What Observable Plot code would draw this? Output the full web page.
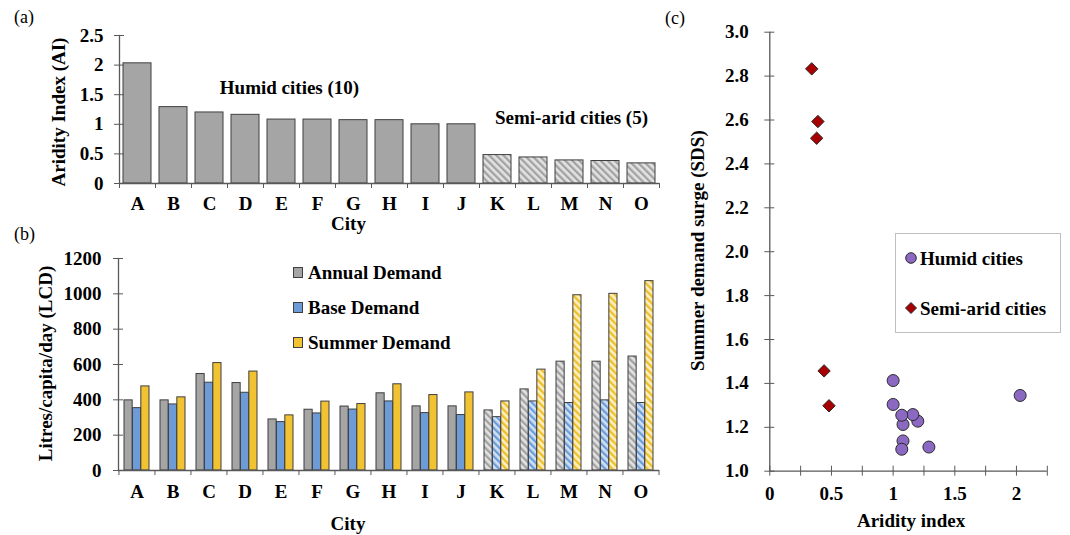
<!DOCTYPE html>
<html>
<head>
<meta charset="utf-8">
<script src="https://cdn.jsdelivr.net/npm/d3@7"></script>
<script src="https://cdn.jsdelivr.net/npm/@observablehq/plot@0.6"></script>
<style>
  body { margin: 0; background: #fff; }
  #fig { position: relative; width: 1070px; height: 535px; background: #fff;
         font-family: "Liberation Serif", "Times New Roman", serif; color: #000; }
  #fig .panel { position: absolute; }
  .tag { position: absolute; font-size: 18px; font-weight: normal; line-height: 1; }
  .key { position: absolute; display: flex; align-items: center; gap: 5px;
         font-size: 19px; font-weight: bold; white-space: nowrap; line-height: 1; }
  .swatch { display: inline-block; width: 8px; height: 9px; border: 1px solid #3f3f3f; }
  .keybox { position: absolute; border: 1px solid #bfbfbf; background: #fff; box-sizing: border-box; }
</style>
</head>
<body>
<!-- hatch fills used for the semi-arid cities -->
<svg width="0" height="0" style="position:absolute">
  <defs>
    <pattern id="hatchGray" patternUnits="userSpaceOnUse" width="5" height="5" patternTransform="rotate(-45)">
      <rect width="5" height="5" fill="#e2e2e2"/><rect width="2.3" height="5" fill="#a2a2a2"/>
    </pattern>
    <pattern id="hatchBlue" patternUnits="userSpaceOnUse" width="5" height="5" patternTransform="rotate(-45)">
      <rect width="5" height="5" fill="#cfe0f5"/><rect width="2.3" height="5" fill="#6c9bd7"/>
    </pattern>
    <pattern id="hatchGold" patternUnits="userSpaceOnUse" width="5" height="5" patternTransform="rotate(-45)">
      <rect width="5" height="5" fill="#fdf0c0"/><rect width="2.3" height="5" fill="#efbe2c"/>
    </pattern>
  </defs>
</svg>

<div id="fig"></div>

<script>
// ---- data ----
const cities = ["A","B","C","D","E","F","G","H","I","J","K","L","M","N","O"];
const climate = ["Humid","Humid","Humid","Humid","Humid","Humid","Humid","Humid","Humid","Humid",
                 "Semi-arid","Semi-arid","Semi-arid","Semi-arid","Semi-arid"];
const aridityIndex = [2.03, 1.29, 1.20, 1.16, 1.08, 1.08, 1.07, 1.07, 1.00, 1.00, 0.48, 0.44, 0.39, 0.38, 0.34];
const annualDemand = [397, 397, 546, 495, 289, 344, 362, 437, 363, 363, 340, 459, 616, 616, 645];
const baseDemand   = [353, 374, 497, 440, 274, 323, 345, 391, 325, 314, 302, 391, 382, 397, 382];
const summerDemand = [476, 414, 608, 560, 312, 390, 376, 488, 427, 442, 391, 571, 992, 1000, 1072];
const demandSurge  = [1.345, 1.11, 1.228, 1.258, 1.138, 1.213, 1.10, 1.255, 1.304, 1.413, 1.298, 1.457, 2.593, 2.517, 2.833];

const aiTicks = [0, 0.5, 1, 1.5, 2, 2.5];
const lcdTicks = [0, 200, 400, 600, 800, 1000, 1200];
const sdsTicks = [1.0, 1.2, 1.4, 1.6, 1.8, 2.0, 2.2, 2.4, 2.6, 2.8, 3.0];
const scatterMinorTicks = [0, 0.25, 0.5, 0.75, 1, 1.25, 1.5, 1.75, 2, 2.25];
const scatterLabelTicks = [0, 0.5, 1, 1.5, 2];

const seriesNames = ["Annual Demand", "Base Demand", "Summer Demand"];
const seriesValues = [annualDemand, baseDemand, summerDemand];
const seriesFill = ["#a5a5a5", "#6c9bd7", "#f1c232"];
const seriesHatch = ["url(#hatchGray)", "url(#hatchBlue)", "url(#hatchGold)"];

// ---- tables built from the arrays ----
const cityRows = cities.map((c, i) => ({city: c, climate: climate[i], ai: aridityIndex[i], sds: demandSurge[i]}));
const demandRows = seriesNames.flatMap((s, k) =>
  cities.map((c, i) => ({city: c, climate: climate[i], series: s, k, value: seriesValues[k][i]})));

const humid = d => d.climate === "Humid";
const semiArid = d => d.climate === "Semi-arid";

const axisColor = "#595959";
const barStroke = "#3f3f3f";
const baseStyle = {fontFamily: "'Liberation Serif', 'Times New Roman', serif", fontSize: "19px",
                   fontWeight: "bold", color: "#000", background: "transparent", overflow: "visible"};
const vTitle = {frameAnchor: "left", rotate: -90, textAnchor: "middle", lineAnchor: "middle"};

const fig = document.getElementById("fig");
function place(node, left, top) {
  node.classList.add("panel");
  node.style.left = left + "px";
  node.style.top = top + "px";
  fig.appendChild(node);
}

// ---- (a) aridity index by city ----
{
  const W = 680, H = 240;
  const m = {top: 35, right: 21, bottom: 57, left: 119};
  const step = (W - m.left - m.right) / cities.length;
  const chart = Plot.plot({
    width: W, height: H,
    marginTop: m.top, marginRight: m.right, marginBottom: m.bottom, marginLeft: m.left,
    style: baseStyle,
    x: {domain: cities, paddingInner: 0.21, paddingOuter: 0.105},
    y: {domain: [0, 2.5]},
    marks: [
      Plot.barY(cityRows.filter(humid), {x: "city", y: "ai", fill: "#a5a5a5", stroke: barStroke, strokeWidth: 1}),
      Plot.barY(cityRows.filter(semiArid), {x: "city", y: "ai", fill: "url(#hatchGray)", stroke: barStroke, strokeWidth: 1}),
      Plot.ruleY([0], {stroke: axisColor, strokeWidth: 1.3}),
      Plot.frame({anchor: "left", stroke: axisColor, strokeWidth: 1.3}),
      Plot.axisY({ticks: aiTicks, tickSize: 10, dx: 5, tickPadding: 11, tickFormat: d => String(d), stroke: axisColor, label: null}),
      Plot.axisX({tickSize: 0, tickPadding: 13, label: null}),
      Plot.axisX({ticks: cities, tickSize: 5, dx: -step / 2, tickFormat: () => "", stroke: axisColor, label: null}),
      Plot.axisX({ticks: cities.slice(-1), tickSize: 5, dx: step / 2, tickFormat: () => "", stroke: axisColor, label: null}),
      Plot.text(["Aridity Index (AI)"], {...vTitle, dx: -61, dy: 2.5}),
      Plot.text(["City"], {frameAnchor: "bottom", dx: -41, dy: 40, lineAnchor: "middle"}),
      Plot.text(["Humid cities (10)"], {frameAnchor: "top-left", dx: 170, dy: 52, textAnchor: "middle", lineAnchor: "middle"}),
      Plot.text(["Semi-arid cities (5)"], {frameAnchor: "top-left", dx: 452, dy: 82, textAnchor: "middle", lineAnchor: "middle"})
    ]
  });
  place(chart, 0, 0);
}

// ---- (b) demand by city ----
{
  const W = 680, H = 295;
  const m = {top: 18, right: 21, bottom: 65, left: 118};
  const step = (W - m.left - m.right) / cities.length;
  const pad = 0.3;
  const w = step * (1 - pad) / seriesNames.length;
  const bars = seriesNames.flatMap((s, k) => {
    const opts = {x: "city", y: "value", stroke: barStroke, strokeWidth: 1,
                  insetLeft: k * w, insetRight: (seriesNames.length - 1 - k) * w};
    return [
      Plot.barY(demandRows.filter(d => d.k === k && humid(d)), {...opts, fill: seriesFill[k]}),
      Plot.barY(demandRows.filter(d => d.k === k && semiArid(d)), {...opts, fill: seriesHatch[k]})
    ];
  });
  const chart = Plot.plot({
    width: W, height: H,
    marginTop: m.top, marginRight: m.right, marginBottom: m.bottom, marginLeft: m.left,
    style: baseStyle,
    x: {domain: cities, paddingInner: pad, paddingOuter: pad / 2},
    y: {domain: [0, 1200]},
    marks: [
      ...bars,
      Plot.ruleY([0], {stroke: axisColor, strokeWidth: 1.3}),
      Plot.frame({anchor: "left", stroke: axisColor, strokeWidth: 1.3}),
      Plot.axisY({ticks: lcdTicks, tickSize: 10, dx: 5, tickPadding: 12, tickFormat: d => String(d), stroke: axisColor, label: null}),
      Plot.axisX({tickSize: 0, tickPadding: 14, label: null}),
      Plot.axisX({ticks: cities, tickSize: 5, dx: -step / 2, tickFormat: () => "", stroke: axisColor, label: null}),
      Plot.axisX({ticks: cities.slice(-1), tickSize: 5, dx: step / 2, tickFormat: () => "", stroke: axisColor, label: null}),
      Plot.text(["Litres/capita/day (LCD)"], {...vTitle, dx: -73, dy: -1}),
      Plot.text(["City"], {frameAnchor: "bottom", dx: -41, dy: 53, lineAnchor: "middle"})
    ]
  });
  place(chart, 0, 240);

  // series key
  const keyTops = [272, 307, 342];
  seriesNames.forEach((s, k) => {
    const row = document.createElement("div");
    row.className = "key";
    row.style.left = "293px";
    row.style.top = (keyTops[k] - 10) + "px";
    row.style.height = "20px";
    const sw = document.createElement("span");
    sw.className = "swatch";
    sw.style.background = seriesFill[k];
    const label = document.createElement("span");
    label.textContent = s;
    row.append(sw, label);
    fig.appendChild(row);
  });
}

// ---- (c) summer demand surge vs aridity index ----
const humidColor = "#8b69c3", semiColor = "#a80000", dotStroke = "#2b2b2b";
{
  const W = 390, H = 535;
  const m = {top: 31.7, right: 23.2, bottom: 64.3, left: 89.3};
  const chart = Plot.plot({
    width: W, height: H,
    marginTop: m.top, marginRight: m.right, marginBottom: m.bottom, marginLeft: m.left,
    style: baseStyle,
    x: {domain: [0, 2.25]},
    y: {domain: [1, 3]},
    marks: [
      Plot.ruleX([0], {stroke: axisColor, strokeWidth: 1.3}),
      Plot.ruleY([1], {stroke: axisColor, strokeWidth: 1.3}),
      Plot.axisY({ticks: sdsTicks, tickSize: 10, dx: 5, tickPadding: 16, tickFormat: d3.format(".1f"), stroke: axisColor, label: null}),
      Plot.axisX({ticks: scatterMinorTicks, tickSize: 10, dy: -5, tickFormat: () => "", stroke: axisColor, label: null}),
      Plot.axisX({ticks: scatterLabelTicks, tickSize: 0, tickPadding: 15, tickFormat: d => String(d), label: null}),
      Plot.dot(cityRows.filter(humid), {x: "ai", y: "sds", r: 6, fill: humidColor, stroke: dotStroke, strokeWidth: 1}),
      Plot.dot(cityRows.filter(semiArid), {x: "ai", y: "sds", symbol: "diamond2", r: 5.6, fill: semiColor, stroke: dotStroke, strokeWidth: 1}),
      Plot.text(["Summer demand surge (SDS)"], {...vTitle, dx: -72, dy: -1}),
      Plot.text(["Aridity index"], {frameAnchor: "bottom", dx: 2.5, dy: 50, lineAnchor: "middle"})
    ]
  });
  place(chart, 680, 0);

  const box = document.createElement("div");
  box.className = "keybox";
  Object.assign(box.style, {left: "895px", top: "233px", width: "166px", height: "100px"});
  fig.appendChild(box);

  const keys = [
    {label: "Humid cities", top: 258, icon: `<circle cx="6" cy="6" r="5.3" fill="${humidColor}" stroke="${dotStroke}" stroke-width="1"/>`},
    {label: "Semi-arid cities", top: 308, icon: `<path d="M6 0.5 L11.5 6 L6 11.5 L0.5 6 Z" fill="${semiColor}" stroke="${dotStroke}" stroke-width="1"/>`}
  ];
  for (const k of keys) {
    const row = document.createElement("div");
    row.className = "key";
    row.style.gap = "3px";
    row.style.left = "905px";
    row.style.top = (k.top - 10) + "px";
    row.style.height = "20px";
    row.innerHTML = `<svg width="12" height="12" style="overflow:visible">${k.icon}</svg><span>${k.label}</span>`;
    fig.appendChild(row);
  }
}

// ---- panel tags ----
[["(a)", 14, 8], ["(b)", 14, 225], ["(c)", 665, 9]].forEach(([t, x, y]) => {
  const el = document.createElement("div");
  el.className = "tag";
  el.textContent = t;
  el.style.left = x + "px";
  el.style.top = y + "px";
  fig.appendChild(el);
});
</script>
</body>
</html>
